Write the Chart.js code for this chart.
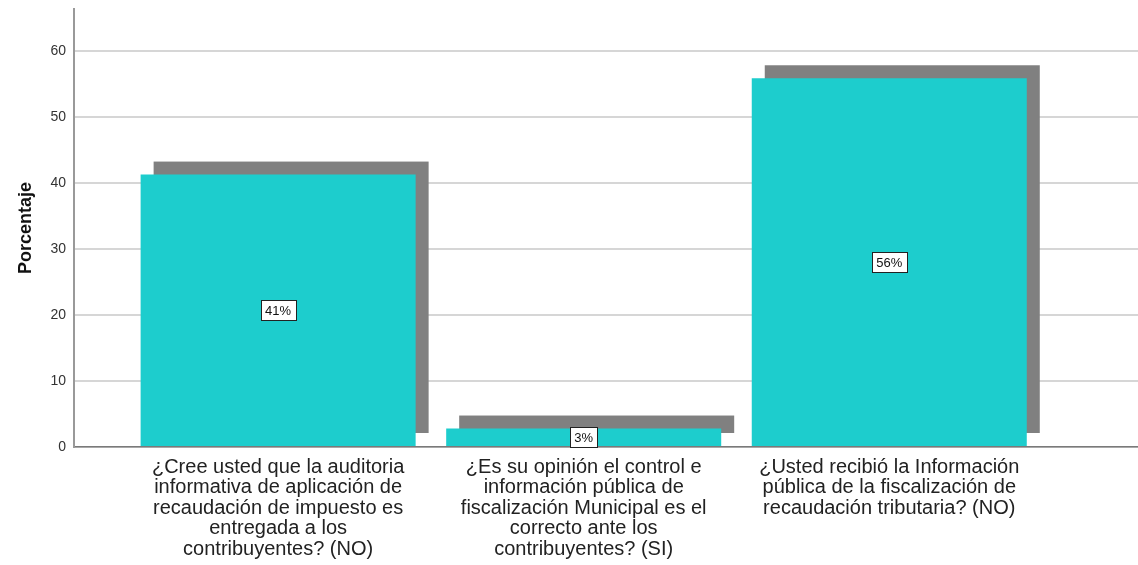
<!DOCTYPE html>
<html>
<head>
<meta charset="utf-8">
<script src="https://cdn.jsdelivr.net/npm/chart.js@4/dist/chart.umd.min.js"></script>
<style>
  html, body { margin: 0; padding: 0; background: #ffffff; }
  #wrap { width: 1138px; height: 565px; }
</style>
</head>
<body>
<div id="wrap"><canvas id="barChart"></canvas></div>
<script>
// category labels, already wrapped the way the reference shows them
const categories = [
    ['¿Cree usted que la auditoria', 'informativa de aplicación de', 'recaudación de impuesto es', 'entregada a los', 'contribuyentes? (NO)'],
    ['¿Es su opinión el control e', 'información pública de', 'fiscalización Municipal es el', 'correcto ante los', 'contribuyentes? (SI)'],
    ['¿Usted recibió la Información', 'pública de la fiscalización de', 'recaudación tributaria? (NO)']
];
const percentages = [41.3, 2.8, 55.9];
const yTickValues = [0, 10, 20, 30, 40, 50, 60];
const yMax = 66.4;

const barColor = '#1dcdcd';
const shadowColor = '#808080';
const shadowOffset = 13;

// gray "3D" shadow behind every bar, taken from the bar elements themselves
const shadowPlugin = {
    id: 'barShadow',
    beforeDatasetsDraw(chart) {
        const ctx = chart.ctx;
        const meta = chart.getDatasetMeta(0);
        ctx.save();
        ctx.fillStyle = shadowColor;
        meta.data.forEach(bar => {
            const p = bar.getProps(['x', 'y', 'base', 'width'], true);
            ctx.fillRect(p.x - p.width / 2 + shadowOffset, p.y - shadowOffset, p.width, p.base - p.y);
        });
        ctx.restore();
    }
};

// boxed percentage label in the middle of each bar
const boxLabelPlugin = {
    id: 'boxLabels',
    afterDatasetsDraw(chart) {
        const ctx = chart.ctx;
        const meta = chart.getDatasetMeta(0);
        ctx.save();
        ctx.font = '13px "Liberation Sans", Arial, sans-serif';
        ctx.textAlign = 'center';
        ctx.textBaseline = 'middle';
        meta.data.forEach((bar, i) => {
            const p = bar.getProps(['x', 'y', 'base'], true);
            const text = Math.round(percentages[i]) + '%';
            const w = Math.ceil(ctx.measureText(text).width) + 8;
            const h = 20;
            const cy = (p.y + p.base) / 2;
            const bx = Math.round(p.x - w / 2) + 0.5;
            const by = Math.round(cy - h / 2) + 0.5;
            ctx.fillStyle = '#ffffff';
            ctx.fillRect(bx, by, w, h);
            ctx.strokeStyle = '#222222';
            ctx.lineWidth = 1;
            ctx.strokeRect(bx, by, w, h);
            ctx.fillStyle = '#111111';
            ctx.fillText(text, p.x, cy + 1);
        });
        ctx.restore();
    }
};

const ctxBar = document.getElementById('barChart').getContext('2d');
new Chart(ctxBar, {
    type: 'bar',
    data: {
        datasets: [{
            label: 'Porcentaje',
            data: percentages.map((v, i) => ({ x: i, y: v })),
            backgroundColor: barColor,
            borderWidth: 0,
            barPercentage: 0.9,
            categoryPercentage: 1.0
        }]
    },
    options: {
        responsive: true,
        maintainAspectRatio: false,
        animation: false,
        layout: { padding: { top: 9, right: 0, left: 0, bottom: 0 } },
        plugins: {
            legend: { display: false },
            tooltip: { enabled: false }
        },
        scales: {
            x: {
                type: 'linear',
                offset: false,
                min: -0.668,
                max: 2.814,
                afterBuildTicks: scale => {
                    scale.ticks = categories.map((c, i) => ({ value: i }));
                },
                afterFit: scale => { scale.height = 118; },
                grid: { display: false, drawTicks: false, offset: false },
                border: { display: true, color: '#7a7a7a', width: 1.5 },
                ticks: {
                    autoSkip: false,
                    maxRotation: 0,
                    minRotation: 0,
                    padding: 10,
                    color: '#222222',
                    font: { family: '"Liberation Sans", Arial, sans-serif', size: 20, lineHeight: '20.5px' },
                    callback: value => categories[value] || ''
                }
            },
            y: {
                min: 0,
                max: yMax,
                afterBuildTicks: scale => {
                    scale.ticks = yTickValues.map(v => ({ value: v }));
                },
                afterFit: scale => {
                    scale.width = 74;
                    scale.paddingTop = 0;
                    scale.paddingBottom = 0;
                },
                grid: { color: '#d6d6d6', lineWidth: 2, drawTicks: false },
                border: { display: true, color: '#999999', width: 2 },
                ticks: {
                    padding: 8,
                    color: '#333333',
                    font: { family: '"Liberation Sans", Arial, sans-serif', size: 14 }
                },
                title: {
                    display: true,
                    text: 'Porcentaje',
                    color: '#111111',
                    padding: { top: 15, bottom: 0 },
                    font: { family: '"Liberation Sans", Arial, sans-serif', size: 18, weight: 'bold' }
                }
            }
        }
    },
    plugins: [shadowPlugin, boxLabelPlugin]
});
</script>
</body>
</html>
